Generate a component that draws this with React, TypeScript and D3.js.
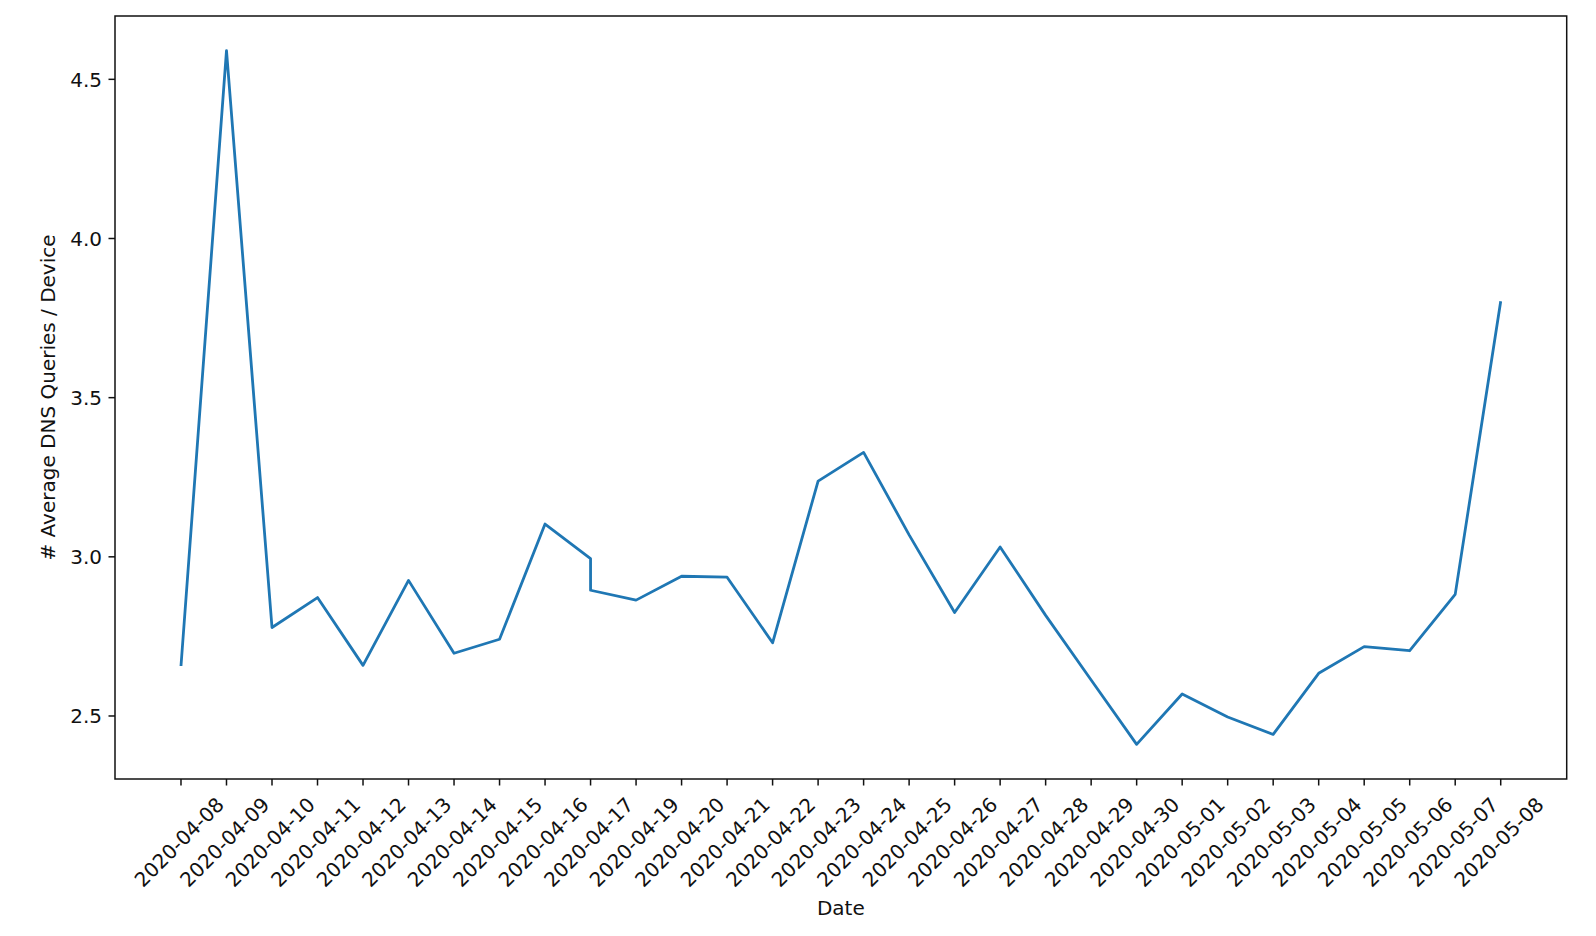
import * as d3 from 'd3'
import { useEffect, useRef } from 'react'

// tick categories (note: no 04-18, matplotlib categorical axis)
const categories = [
  '2020-04-08', '2020-04-09', '2020-04-10', '2020-04-11', '2020-04-12',
  '2020-04-13', '2020-04-14', '2020-04-15', '2020-04-16', '2020-04-17',
  '2020-04-19', '2020-04-20', '2020-04-21', '2020-04-22', '2020-04-23',
  '2020-04-24', '2020-04-25', '2020-04-26', '2020-04-27', '2020-04-28',
  '2020-04-29', '2020-04-30', '2020-05-01', '2020-05-02', '2020-05-03',
  '2020-05-04', '2020-05-05', '2020-05-06', '2020-05-07', '2020-05-08',
]

// 2020-04-17 shows up twice in the series
const pointDates = [
  '2020-04-08', '2020-04-09', '2020-04-10', '2020-04-11', '2020-04-12',
  '2020-04-13', '2020-04-14', '2020-04-15', '2020-04-16', '2020-04-17',
  '2020-04-17', '2020-04-19', '2020-04-20', '2020-04-21', '2020-04-22',
  '2020-04-23', '2020-04-24', '2020-04-25', '2020-04-26', '2020-04-27',
  '2020-04-28', '2020-04-29', '2020-04-30', '2020-05-01', '2020-05-02',
  '2020-05-03', '2020-05-04', '2020-05-05', '2020-05-06', '2020-05-07',
  '2020-05-08',
]

const avgQueries = [
  2.657, 4.590, 2.778, 2.872, 2.659,
  2.926, 2.697, 2.741, 3.103, 2.994,
  2.895, 2.864, 2.939, 2.936, 2.730,
  3.238, 3.328, 3.069, 2.825, 3.031,
  2.816, 2.613, 2.411, 2.569, 2.497,
  2.442, 2.634, 2.718, 2.705, 2.882,
  3.803,
]

const yTicks = [2.5, 3.0, 3.5, 4.0, 4.5]

const W = 1596, H = 936
const FONT = '"DejaVu Sans", sans-serif'
const FS = 20
const INK = '#111'

export default function App() {
  const ref = useRef<SVGSVGElement | null>(null)

  useEffect(() => {
    if (!ref.current) return
    const svg = d3.select(ref.current)
    svg.selectAll('*').remove()

    const m = { left: 115, right: 1566.7, top: 16, bottom: 779 }

    const x = d3.scalePoint<string>().domain(categories)
      .range([m.left, m.right]).padding(1.45)
    const [lo, hi] = d3.extent(avgQueries) as [number, number]
    const pad = (hi - lo) * 0.05
    const y = d3.scaleLinear().domain([lo - pad, hi + pad]).range([m.bottom, m.top])

    const pts = pointDates.map((d, i) => [x(d) ?? 0, y(avgQueries[i])] as [number, number])
    svg.append('path')
      .attr('d', d3.line()(pts))
      .attr('fill', 'none').attr('stroke', '#1f77b4')
      .attr('stroke-width', 2.8).attr('stroke-linejoin', 'round')

    // frame
    svg.append('rect')
      .attr('x', m.left).attr('y', m.top)
      .attr('width', m.right - m.left).attr('height', m.bottom - m.top)
      .attr('fill', 'none').attr('stroke', INK).attr('stroke-width', 1.5)

    const tickLen = 6.5
    // y ticks
    for (const t of yTicks) {
      const ty = y(t)
      svg.append('line').attr('x1', m.left - tickLen).attr('x2', m.left)
        .attr('y1', ty).attr('y2', ty).attr('stroke', INK).attr('stroke-width', 1.5)
      svg.append('text').attr('x', m.left - 13).attr('y', ty).attr('dy', '0.36em')
        .attr('text-anchor', 'end').attr('font-family', FONT).attr('font-size', FS)
        .attr('fill', INK).text(t.toFixed(1))
    }

    // x ticks, labels rotated 45deg, box centered under tick
    for (const c of categories) {
      const tx = x(c) ?? 0
      svg.append('line').attr('x1', tx).attr('x2', tx)
        .attr('y1', m.bottom).attr('y2', m.bottom + tickLen)
        .attr('stroke', INK).attr('stroke-width', 1.5)
      svg.append('text')
        .attr('transform', `translate(${tx - 2},842) rotate(-45)`)
        .attr('dy', '0.36em').attr('text-anchor', 'middle')
        .attr('font-family', FONT).attr('font-size', FS).attr('fill', INK)
        .text(c)
    }

    svg.append('text').attr('x', (m.left + m.right) / 2).attr('y', 915)
      .attr('text-anchor', 'middle').attr('font-family', FONT).attr('font-size', FS)
      .attr('fill', INK).text('Date')

    svg.append('text')
      .attr('transform', `translate(54.5,${(m.top + m.bottom) / 2}) rotate(-90)`)
      .attr('text-anchor', 'middle').attr('font-family', FONT).attr('font-size', FS)
      .attr('fill', INK).text('# Average DNS Queries / Device')
  }, [])

  return (
    <svg ref={ref} width={W} height={H}
      style={{ position: 'absolute', left: 0, top: 0, background: '#fff' }} />
  )
}
